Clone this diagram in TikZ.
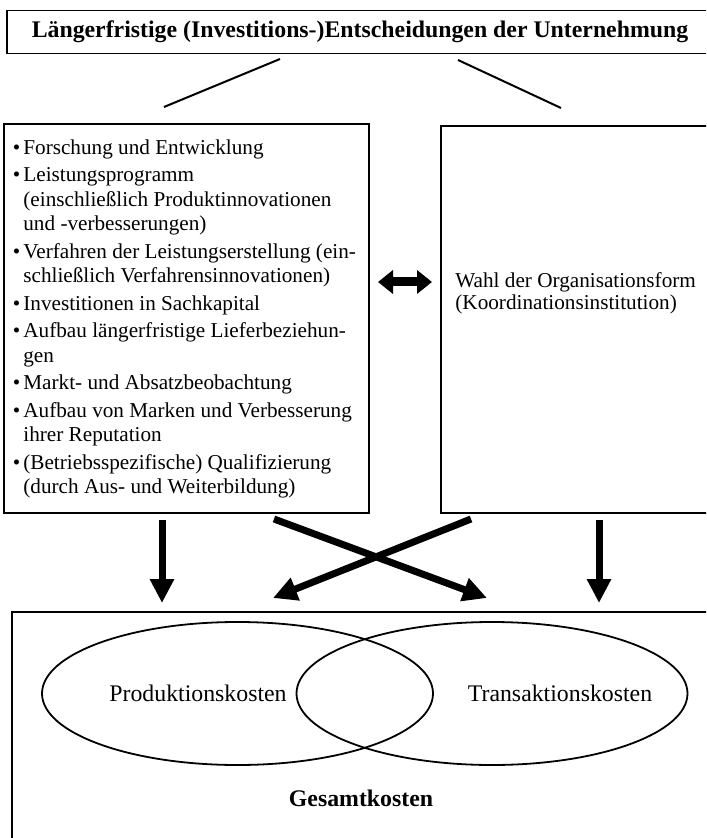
\documentclass[tikz,border=0pt]{standalone}
\usepackage{fontspec}
\setmainfont{Liberation Serif}
\usetikzlibrary{
    arrows.meta,
    shapes.geometric,
    positioning
}

\newcommand{\bul}{\llap{\textbullet\hspace{1.5pt}}}
\newcommand{\listfont}{\fontsize{10.6}{12.25}\selectfont}
\newcommand{\labelfont}{\fontsize{11.9}{14}\selectfont}

\begin{document}
\begin{tikzpicture}[x=0.5pt, y=-0.5pt,
    boxframe/.style={draw=black, line width=0.6pt, inner sep=0pt},
    costoval/.style={ellipse, draw=black, line width=0.9pt, minimum width=195.5pt, minimum height=71.5pt, inner sep=0pt},
    joinline/.style={line width=1pt},
    bigarrow/.style={line width=3.5pt, -{Triangle[width=11.5pt, length=12pt]}},
    dblarrow/.style={line width=4.5pt, {Triangle[width=11.5pt, length=7.5pt]}-{Triangle[width=11.5pt, length=7.5pt]}}
]
                        \clip (0,0) rectangle (706,838);

                        % top box
                        \node[boxframe, minimum width=353pt, minimum height=21.5pt, font=\labelfont\bfseries] (head) at (360,32) {Längerfristige (Investitions-)Entscheidungen der Unternehmung};
                        \coordinate (hl1) at (280,59);
                        \coordinate (hl2) at (164,107);
                        \coordinate (hr1) at (458,60);
                        \coordinate (hr2) at (561,108);

                        % two middle boxes
                        \node[boxframe, minimum width=182.5pt, minimum height=194.5pt] (lbox) at (186.5,318.5) {};
                        \node[anchor=west, align=left, inner sep=0pt, font=\listfont] (ltext) at (23,319) {%
                            \bul Forschung und Entwicklung\\[1.5pt]
                            \bul Leistungsprogramm\\
                            (einschließlich Produktinnovationen\\
                            und -verbesserungen)\\[1.5pt]
                            \bul Verfahren der Leistungserstellung (ein-\\
                            schließlich Verfahrensinnovationen)\\[1.5pt]
                            \bul Investitionen in Sachkapital\\[1.5pt]
                            \bul Aufbau längerfristige Lieferbeziehun-\\
                            gen\\[1.5pt]
                            \bul Markt- und Absatzbeobachtung\\[1.5pt]
                            \bul Aufbau von Marken und Verbesserung\\
                            ihrer Reputation\\[1.5pt]
                            \bul (Betriebsspezifische) Qualifizierung\\
                            (durch Aus- und Weiterbildung)};
                        \node[boxframe, minimum width=135.5pt, minimum height=193.5pt] (rbox) at (576.5,319.5) {};
                        \node[anchor=west, align=left, inner sep=0pt, font=\fontsize{10.6}{10.8}\selectfont] (rtext) at (455,293) {Wahl der Organisationsform\\(Koordinationsinstitution)};
                        \coordinate (dl) at (378,282);
                        \coordinate (dr) at (432,282);

                        % arrows down
                        \coordinate (a1) at (162,520);
                        \coordinate (a1e) at (162,603);
                        \coordinate (a2) at (274,519);
                        \coordinate (a2e) at (487,598);
                        \coordinate (a3) at (471,519);
                        \coordinate (a3e) at (273,598);
                        \coordinate (a4) at (599,520);
                        \coordinate (a4e) at (599,603);

                        % bottom box
                        \node[boxframe, minimum width=350pt, minimum height=119pt] (total) at (362,731) {};
                        \node[costoval] (pk) at (237.5,693.5) {};
                        \node[costoval] (tk) at (492,693.5) {};
                        \node[font=\labelfont] (pklab) at (198,693) {Produktionskosten};
                        \node[font=\labelfont] (tklab) at (560,693) {Transaktionskosten};
                        \node[font=\labelfont\bfseries] (gk) at (361,798) {Gesamtkosten};

                        \draw[joinline]
                        (hl1) edge (hl2)
                        (hr1) edge (hr2);
                        \draw[dblarrow] (dl) -- (dr);
                        \draw
                        (a1) edge[bigarrow] (a1e)
                        (a2) edge[bigarrow] (a2e)
                        (a3) edge[bigarrow] (a3e)
                        (a4) edge[bigarrow] (a4e);
                    \end{tikzpicture}
\end{document}
